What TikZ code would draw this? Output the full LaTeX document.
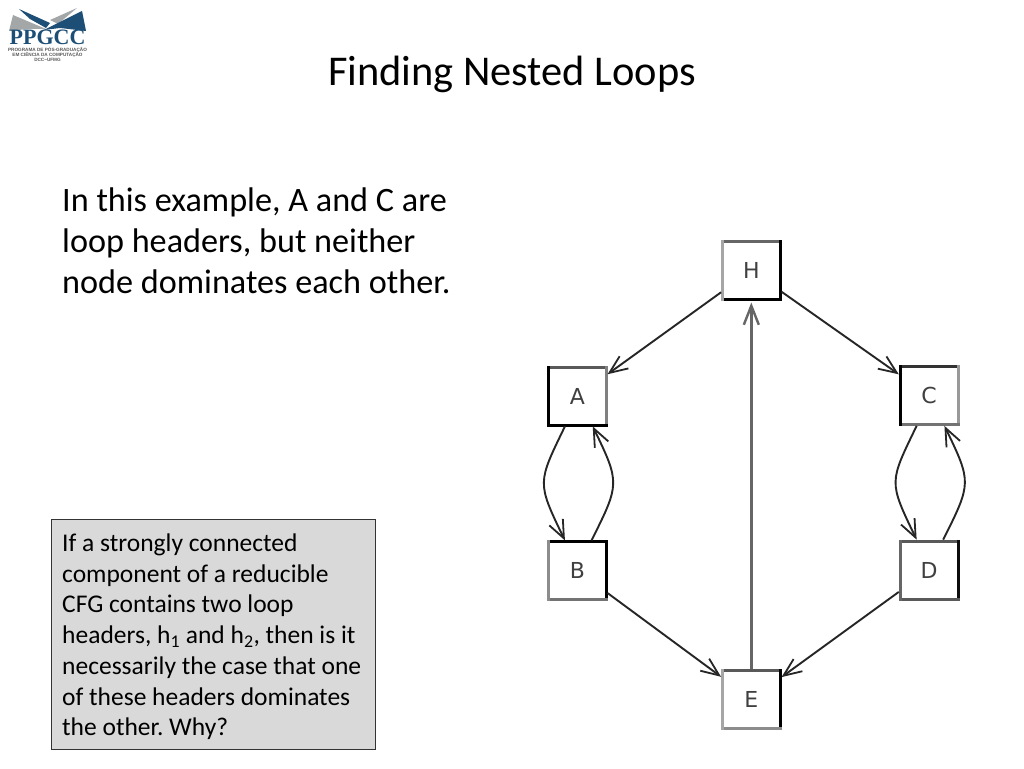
\documentclass[tikz,border=0pt]{standalone}
\usepackage{fontspec}
\setmainfont{Carlito}
\newfontfamily\logoserif{Liberation Serif}
\newfontfamily\logosans{Liberation Sans}
\newfontfamily\graphfont{DejaVu Sans}
\usetikzlibrary{arrows.meta}
\definecolor{boxgray}{HTML}{D9D9D9}
\definecolor{logoblue}{HTML}{1D4F76}
\definecolor{logogray}{HTML}{A3A7A8}
\newcommand{\cfgsides}[5]{%
  \draw[line width=3pt,draw=black!#2,line cap=rect] (#1.north west) -- (#1.north east);
  \draw[line width=3pt,draw=black!#3,line cap=rect] (#1.north east) -- (#1.south east);
  \draw[line width=3pt,draw=black!#4,line cap=rect] (#1.south east) -- (#1.south west);
  \draw[line width=3pt,draw=black!#5,line cap=rect] (#1.south west) -- (#1.north west);
}
\frenchspacing
\tikzset{
  x=1pt,y=-1pt,
  cfg/.style={outer sep=0pt,minimum size=58pt,inner sep=0pt,fill=white,font=\graphfont\fontsize{22}{24}\selectfont\color{black!75}},
  edge/.style={line width=1.9pt,draw=black!85,-{Straight Barb[length=18pt,width=15pt,line width=1.8pt]},shorten >=1.5pt,shorten <=1.5pt},
  backedge/.style={line width=3.2pt,draw=black!60,-{Straight Barb[length=19pt,width=15pt,line width=2.4pt]},shorten >=3pt,shorten <=1.5pt},
  body/.style={anchor=base west,inner sep=0pt,font=\fontsize{34.2}{41}\selectfont},
  note/.style={anchor=base west,inner sep=0pt,font=\fontsize{25.5}{31}\selectfont},
}
\begin{document}
\begin{tikzpicture}
\useasboundingbox (0,0) rectangle (1024,768);
\fill[white] (0,0) rectangle (1024,768);
% logo
\fill[logogray] (9,31) -- (13,15) -- (46,29) -- (28,29) -- cycle;
\fill[logogray] (50,20) -- (77,8) -- (58,24) -- cycle;
\fill[logoblue] (19,9) -- (50,23) -- (46,28) -- (30,19) -- cycle;
\fill[logoblue] (44,30) -- (82,11) -- (86,31) -- (60,28) -- cycle;
\node[anchor=base,inner sep=0pt,text=logoblue,font=\logoserif\bfseries\fontsize{22}{22}\selectfont] (logotitle) at (47.5,44.5) {PPGCC};
\node[anchor=base,inner sep=0pt,text=black!65,font=\logosans\bfseries\fontsize{4.65}{5}\selectfont] (logoa) at (47.5,51.5) {PROGRAMA DE PÓS-GRADUAÇÃO};
\node[anchor=base,inner sep=0pt,text=black!65,font=\logosans\bfseries\fontsize{4.65}{5}\selectfont] (logob) at (47.5,56.8) {EM CIÊNCIA DA COMPUTAÇÃO};
\node[anchor=base,inner sep=0pt,text=black!65,font=\logosans\bfseries\fontsize{4.65}{5}\selectfont] (logoc) at (47.5,62) {DCC−UFMG};
% title
\node[anchor=base,inner sep=0pt,font=\fontsize{42.4}{48}\selectfont] (title) at (512,85) {Finding Nested Loops};
% body
\node[body] (l1) at (62,211) {In this example, A and C are};
\node[body] (l2) at (62,252) {loop headers, but neither};
\node[body] (l3) at (62,293) {node dominates each other.};
% note
\node[draw=black!80,fill=boxgray,line width=0.7pt,minimum width=324pt,minimum height=230pt,inner sep=0pt] (notebox) at (213.5,634.5) {};
\node[note] (n1) at (62,551) {If a strongly connected};
\node[note] (n2) at (62,582) {component of a reducible};
\node[note] (n3) at (62,612.5) {CFG contains two loop};
\node[note] (n4) at (62,643.5) {headers, h\textsubscript{1} and h\textsubscript{2}, then is it};
\node[note] (n5) at (62,674) {necessarily the case that one};
\node[note] (n6) at (62,705) {of these headers dominates};
\node[note] (n7) at (62,735.5) {the other. Why?};
% graph
\node[cfg] (H) at (751.3,270.5) {H};
\node[cfg] (A) at (577.3,396) {A};
\node[cfg] (C) at (929,395.5) {C};
\node[cfg] (B) at (577.3,570.8) {B};
\node[cfg] (D) at (929,570) {D};
\node[cfg] (E) at (751.3,699) {E};
\cfgsides{H}{60}{100}{100}{35}
\cfgsides{A}{65}{50}{100}{100}
\cfgsides{C}{80}{40}{55}{100}
\cfgsides{B}{100}{100}{55}{45}
\cfgsides{D}{65}{95}{65}{60}
\cfgsides{E}{65}{100}{45}{35}
\draw[edge] (H) -- (A);
\draw[edge] (H) -- (C);
\draw[edge] (B) -- (E);
\draw[edge] (D) -- (E);
\draw[backedge] (E) -- (H);
\draw[edge] (A.-112) .. controls +(-28,58) and +(-29,-60) .. (B.112);
\draw[edge] (B.65) .. controls +(29,-58) and +(28,58) .. (A.-63);
\draw[edge] (C.-112) .. controls +(-28,58) and +(-29,-60) .. (D.112);
\draw[edge] (D.65) .. controls +(29,-58) and +(28,58) .. (C.-63);
\end{tikzpicture}
\end{document}
